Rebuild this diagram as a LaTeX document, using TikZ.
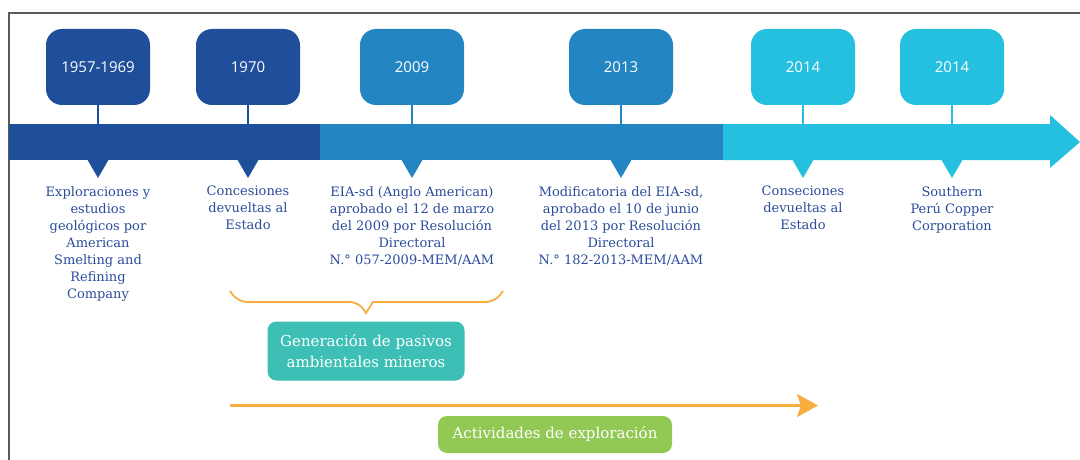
\documentclass[tikz,border=0pt]{standalone}
\usepackage{fontspec}
\setmainfont{DejaVu Serif}
\newfontfamily\yearfont{Open Sans}
\usetikzlibrary{arrows.meta}

\definecolor{darkblue}{RGB}{31,78,154}
\definecolor{midblue}{RGB}{35,133,194}
\definecolor{lightblue}{RGB}{37,192,224}
\definecolor{textblue}{RGB}{43,76,155}
\definecolor{pasivofill}{RGB}{61,191,181}
\definecolor{explofill}{RGB}{146,200,84}
\definecolor{orangeline}{RGB}{249,173,62}
\definecolor{framegray}{RGB}{90,90,90}

\tikzset{
  yearbox/.style={rounded corners=16pt, minimum width=104pt, minimum height=76pt,
    text=white, font=\yearfont\fontsize{15}{18}\selectfont},
  desc/.style={text=textblue, align=center, anchor=north, inner sep=0pt,
    font=\fontsize{13}{17}\selectfont},
  notebox/.style={rounded corners=9pt, text=white, align=center,
    font=\fontsize{15}{21}\selectfont},
}

\begin{document}
\begin{tikzpicture}[x=1pt,y=-1pt]
  \useasboundingbox (0,0) rectangle (1080,460);
  \draw[framegray, line width=1.4pt] (9,460) -- (9,13) -- (1080,13);

  \fill[darkblue] (9,124) rectangle (320,160);
  \fill[midblue] (320,124) rectangle (723,160);
  \fill[lightblue] (723,124) -- (1050,124) -- (1050,115) -- (1080,142)
    -- (1050,168) -- (1050,160) -- (723,160) -- cycle;

  \foreach \i/\x/\c/\yr in {1/98/darkblue/1957-1969, 2/248/darkblue/1970,
      3/412/midblue/2009, 4/621/midblue/2013,
      5/803/lightblue/2014, 6/952/lightblue/2014} {
    \node[yearbox, fill=\c] (y\i) at (\x,67) {\yr};
    \draw[\c, line width=2pt] (y\i.south) -- (y\i.south |- 0,125);
    \fill[\c] (\x-11,159) -- (\x+11,159) -- (\x,178) -- cycle;
  }

  \node[desc] (d1) at (98,186) {Exploraciones y\\estudios\\geológicos por\\American\\Smelting and\\Refining\\Company};
  \node[desc] (d2) at (248,186) {Concesiones\\devueltas al\\Estado};
  \node[desc] (d3) at (412,186) {EIA-sd (Anglo American)\\aprobado el 12 de marzo\\del 2009 por Resolución\\Directoral\\N.° 057-2009-MEM/AAM};
  \node[desc] (d4) at (621,186) {Modificatoria del EIA-sd,\\aprobado el 10 de junio\\del 2013 por Resolución\\Directoral\\N.° 182-2013-MEM/AAM};
  \node[desc] (d5) at (803,186) {Conseciones\\devueltas al\\Estado};
  \node[desc] (d6) at (952,186) {Southern\\Perú Copper\\Corporation};

  \draw[orangeline, line width=1.8pt, rounded corners=9pt] (230,291) -- (238,302)
    -- (359,302) [sharp corners] -- (366,313) -- (373,302) [rounded corners=9pt]
    -- (495,302) -- (503,291);
  \node[notebox, fill=pasivofill, minimum width=197pt, minimum height=59pt] (pasivos)
    at (366,351) {Generación de pasivos\\ambientales mineros};

  \coordinate (explostart) at (230,405.5);
  \coordinate (exploend) at (818,405.5);
  \draw[orangeline, line width=3pt, -{Stealth[length=21pt,width=23pt,inset=4pt]}] (explostart) -- (exploend);
  \node[notebox, fill=explofill, minimum width=234pt, minimum height=37pt] (explo)
    at (555,434.5) {Actividades de exploración};
\end{tikzpicture}
\end{document}
